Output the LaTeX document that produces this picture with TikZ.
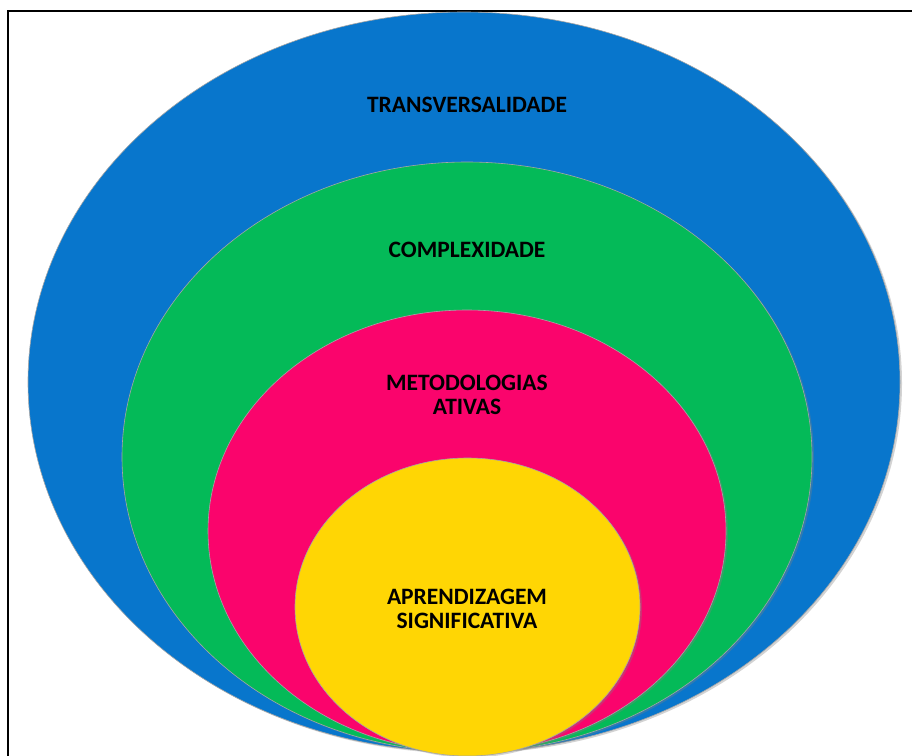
\documentclass[tikz,border=0pt]{standalone}
\usepackage{fontspec}
\setmainfont{Carlito}
\usepackage{xcolor}
\usetikzlibrary{positioning,shapes.geometric,shadows}

\definecolor{ringblue}{RGB}{8,118,204}
\definecolor{ringgreen}{RGB}{4,186,88}
\definecolor{ringpink}{RGB}{250,4,108}
\definecolor{ringyellow}{RGB}{255,214,4}

\tikzset{
  ring/.style={ellipse,inner sep=0pt,draw=black!35,line width=0.6pt,
    drop shadow={shadow xshift=2pt,shadow yshift=-1.5pt,opacity=0.35}},
  label/.style={font=\bfseries\fontsize{23.5}{24}\selectfont,text=black,
    align=center,inner sep=0pt}
}

\begin{document}
\begin{tikzpicture}[x=1pt,y=-1pt]
\useasboundingbox (0,0) rectangle (912,755);
\clip (0,0) rectangle (912,755);
\draw [line width=2pt] (8,11) rectangle (940,790);
% rings, outer to inner
\node [ring,fill=ringblue,minimum width=872pt,minimum height=740pt] (trans) at (464,382) {};
\node [ring,fill=ringgreen,minimum width=690pt,minimum height=590pt] (compl) at (467,457) {};
\node [ring,fill=ringpink,minimum width=518pt,minimum height=442pt] (metod) at (467,531) {};
\node [ring,fill=ringyellow,minimum width=345pt,minimum height=298pt] (aprend) at (467.5,607) {};
% labels
\node [label] (ltrans) at (467,105) {TRANSVERSALIDADE};
\node [label] (lcompl) at (467,250) {COMPLEXIDADE};
\node [label] (lmetod) at (467,395) {METODOLOGIAS\\ATIVAS};
\node [label] (laprend) at (467,608.5) {APRENDIZAGEM\\SIGNIFICATIVA};
\end{tikzpicture}
\end{document}
